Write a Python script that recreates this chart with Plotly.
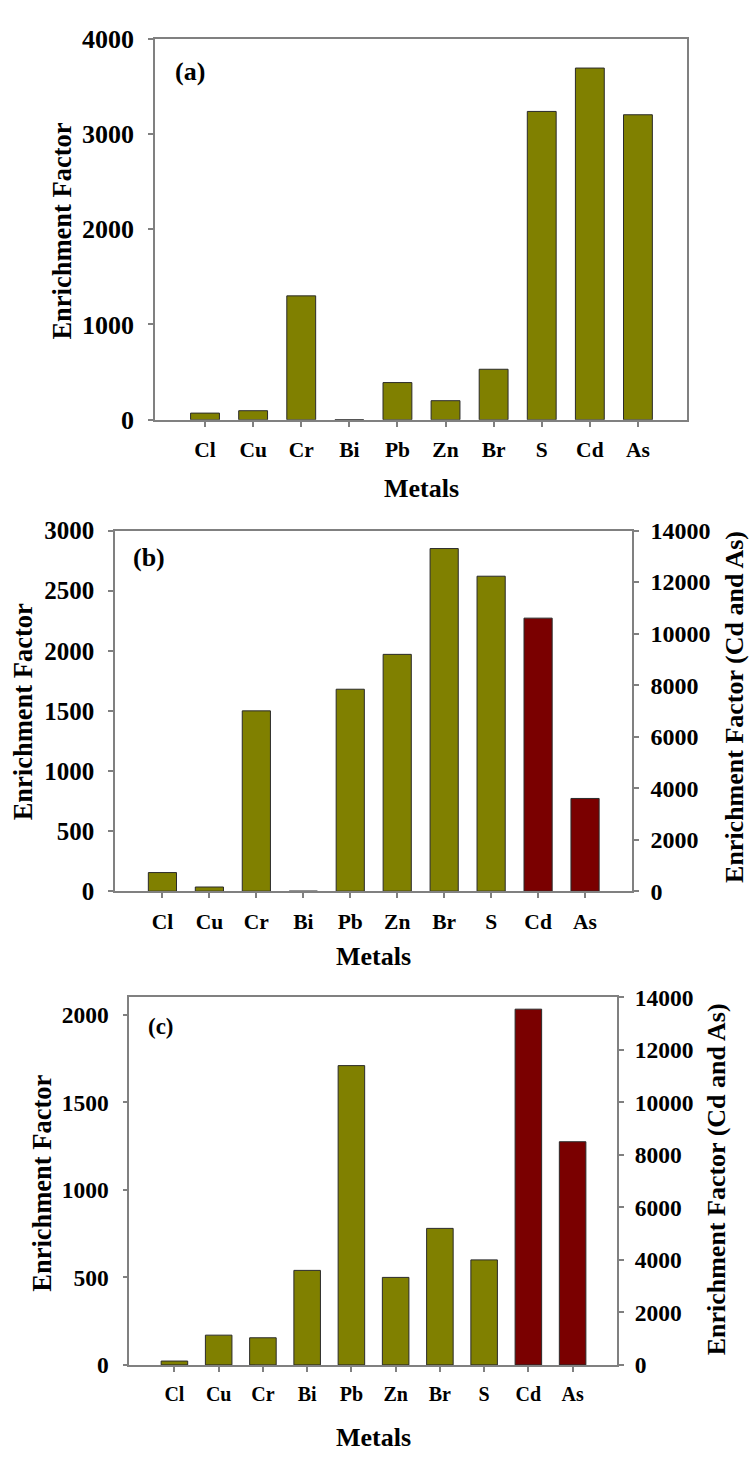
import plotly.graph_objects as go

metals = ["Cl", "Cu", "Cr", "Bi", "Pb", "Zn", "Br", "S", "Cd", "As"]
main_metals = metals[:8]
cdas_metals = metals[8:]

ef_a = [70, 95, 1300, 0, 390, 200, 530, 3235, 3690, 3200]
ef_b_main = [155, 35, 1500, 0, 1680, 1970, 2850, 2620]
ef_b_cdas = [10600, 3600]
ef_c_main = [22, 170, 155, 540, 1710, 500, 780, 600]
ef_c_cdas = [13550, 8500]

W, H = 750, 1459
OLIVE = "#808000"
DRED = "#7a0000"
EDGE = "#2a2a2a"
AX = "#808080"
FONT = "Liberation Serif"


def px(x):
    return x / W


def py(y):
    return 1 - y / H


fig = go.Figure()

bar_kw = dict(width=0.6, marker_line_color=EDGE, marker_line_width=1, showlegend=False)

fig.add_trace(go.Bar(x=metals, y=ef_a, marker_color=OLIVE, xaxis="x", yaxis="y", **bar_kw))
fig.add_trace(go.Bar(x=main_metals, y=ef_b_main, marker_color=OLIVE, xaxis="x2", yaxis="y2", **bar_kw))
fig.add_trace(go.Bar(x=cdas_metals, y=ef_b_cdas, marker_color=DRED, xaxis="x2", yaxis="y3", **bar_kw))
fig.add_trace(go.Bar(x=main_metals, y=ef_c_main, marker_color=OLIVE, xaxis="x3", yaxis="y4", **bar_kw))
fig.add_trace(go.Bar(x=cdas_metals, y=ef_c_cdas, marker_color=DRED, xaxis="x3", yaxis="y5", **bar_kw))


def xax(domain, rng, fsize, anchor):
    return dict(domain=domain, range=rng, type="category", categoryorder="array",
                categoryarray=metals, anchor=anchor, showline=True, linecolor=AX, linewidth=1.5,
                mirror=True, ticks="outside", ticklen=5, tickcolor=AX, tickwidth=1.5,
                showgrid=False, zeroline=False, ticklabelstandoff=5,
                tickfont=dict(family=FONT, size=fsize, color="black", weight="bold"))


def yax(domain, rng, dtick, fsize, anchor, side="left", overlaying=None, mirror=False, standoff=9):
    d = dict(domain=domain, range=rng, dtick=dtick, tick0=0, anchor=anchor, side=side,
             showline=True, linecolor=AX, linewidth=1.5, mirror=mirror, tickformat="d",
             ticks="outside", ticklen=5, tickcolor=AX, tickwidth=1.5,
             showgrid=False, zeroline=False, ticklabelstandoff=standoff,
             tickfont=dict(family=FONT, size=fsize, color="black", weight="bold"))
    if overlaying:
        d["overlaying"] = overlaying
    return d


fig.update_layout(
    width=W, height=H, margin=dict(l=0, r=0, t=0, b=0),
    paper_bgcolor="white", plot_bgcolor="white", barmode="overlay", showlegend=False,
    xaxis=xax([px(155), px(687)], [-1.04, 10.02], 21.5, "y"),
    yaxis=yax([py(414), py(25)], [0, 4000], 1000, 26, "x", mirror=True),
    xaxis2=xax([px(115), px(632)], [-1.01, 10.0], 21.5, "y2"),
    yaxis2=yax([py(895), py(527)], [0, 3000], 500, 25, "x2"),
    yaxis3=yax([py(895), py(527)], [0, 14000], 2000, 24, "x2", side="right", overlaying="y2", standoff=7),
    xaxis3=xax([px(129.3), px(617.3)], [-1.02, 10.01], 20, "y4"),
    yaxis4=yax([py(1378.3), py(1003.3)], [0, 2100], 500, 23.5, "x3"),
    yaxis5=yax([py(1378.3), py(1003.3)], [0, 14000], 2000, 23.5, "x3", side="right", overlaying="y4", standoff=6),
)


def ann(text, x, y, size, angle=0, xanchor="center"):
    fig.add_annotation(text=text, x=px(x), y=py(y), xref="paper", yref="paper",
                       xanchor=xanchor, yanchor="middle", showarrow=False, textangle=angle,
                       borderpad=0,
                       font=dict(family=FONT, size=size, color="black", weight="bold"))


# panel (a)
ann("(a)", 174, 58.3, 26, xanchor="left")
ann("Metals", 421, 484, 26)
ann("Enrichment Factor", 62, 222, 26.5, angle=-90)
# panel (b)
ann("(b)", 132, 555, 26, xanchor="left")
ann("Metals", 373.5, 962, 26)
ann("Enrichment Factor", 22.5, 712, 26.5, angle=-90)
ann("Enrichment Factor (Cd and As)", 735, 707, 26, angle=-90)
# panel (c)
ann("(c)", 147, 1033.3, 23, xanchor="left")
ann("Metals", 373.3, 1452, 26)
ann("Enrichment Factor", 42.5, 1193, 26.5, angle=-90)
ann("Enrichment Factor (Cd and As)", 716, 1189, 26, angle=-90)

fig.write_html("out.html", config={"displayModeBar": False},
               post_script="document.body.style.margin='0px';")
